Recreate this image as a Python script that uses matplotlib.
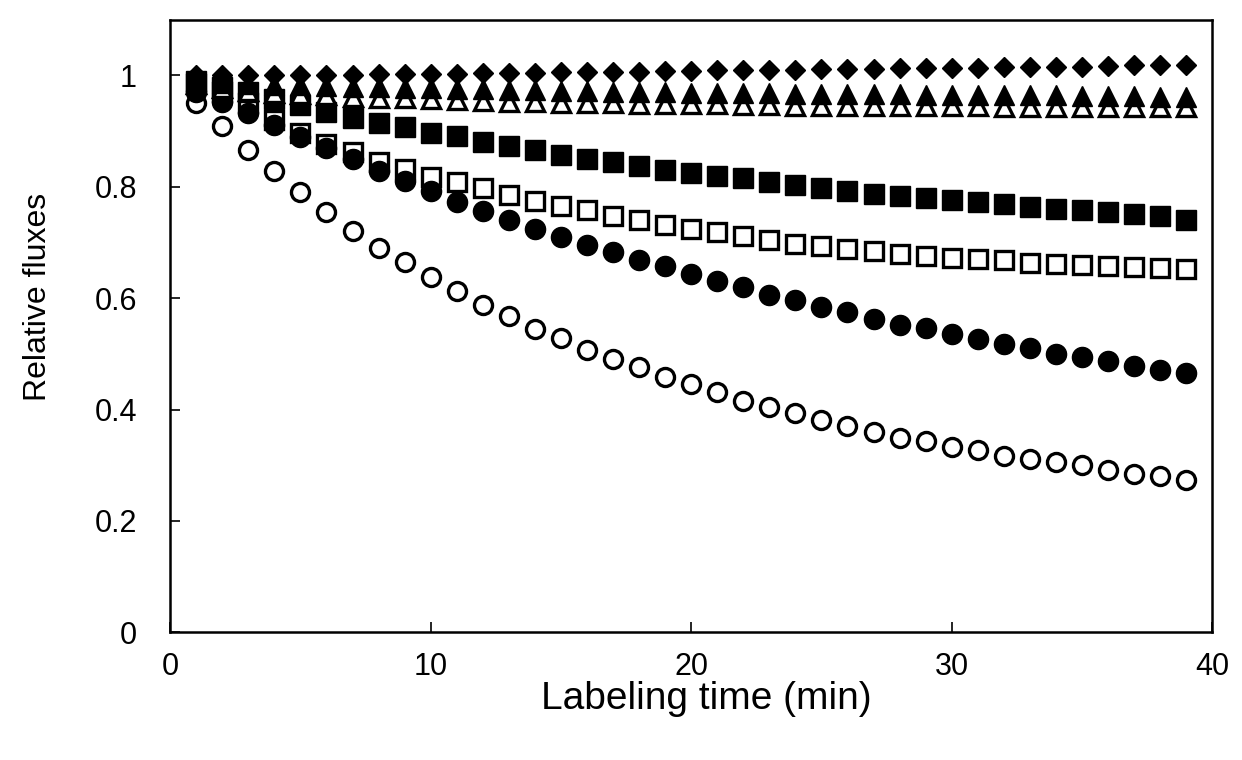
import matplotlib
matplotlib.use("Agg")
import matplotlib.pyplot as plt

plt.rcParams['font.family'] = ['Liberation Sans', 'DejaVu Sans']

# ==== DATA ====
minutes = list(range(1, 40))

diamond_filled = [1.000, 1.000, 1.000, 1.000, 1.000, 1.001, 1.001, 1.002, 1.002, 1.003,
                  1.003, 1.004, 1.005, 1.005, 1.006, 1.006, 1.007, 1.007, 1.008, 1.008,
                  1.009, 1.009, 1.010, 1.010, 1.011, 1.012, 1.012, 1.013, 1.013, 1.014,
                  1.014, 1.015, 1.015, 1.016, 1.016, 1.017, 1.018, 1.018, 1.019]

triangle_filled = [0.990, 0.987, 0.985, 0.983, 0.982, 0.981, 0.980, 0.979, 0.978, 0.977,
                   0.976, 0.975, 0.974, 0.973, 0.972, 0.972, 0.971, 0.970, 0.970, 0.969,
                   0.969, 0.968, 0.968, 0.967, 0.967, 0.966, 0.966, 0.966, 0.965, 0.965,
                   0.965, 0.964, 0.964, 0.964, 0.963, 0.963, 0.963, 0.962, 0.962]

triangle_open = [0.985, 0.978, 0.972, 0.968, 0.966, 0.964, 0.962, 0.960, 0.959, 0.957,
                 0.956, 0.954, 0.953, 0.952, 0.951, 0.950, 0.950, 0.949, 0.949, 0.948,
                 0.948, 0.947, 0.947, 0.946, 0.946, 0.946, 0.946, 0.945, 0.945, 0.945,
                 0.945, 0.944, 0.944, 0.944, 0.944, 0.943, 0.943, 0.943, 0.943]

square_filled = [0.990, 0.980, 0.970, 0.958, 0.947, 0.935, 0.923, 0.914, 0.907, 0.897,
                 0.891, 0.881, 0.873, 0.867, 0.857, 0.850, 0.845, 0.838, 0.831, 0.824,
                 0.820, 0.815, 0.809, 0.804, 0.798, 0.792, 0.788, 0.783, 0.780, 0.776,
                 0.773, 0.770, 0.764, 0.761, 0.758, 0.755, 0.752, 0.747, 0.741]

square_open = [0.985, 0.970, 0.950, 0.920, 0.897, 0.877, 0.862, 0.845, 0.832, 0.818,
               0.809, 0.797, 0.786, 0.775, 0.765, 0.758, 0.748, 0.741, 0.731, 0.724,
               0.718, 0.711, 0.705, 0.698, 0.694, 0.688, 0.684, 0.679, 0.675, 0.672,
               0.671, 0.669, 0.664, 0.661, 0.660, 0.657, 0.656, 0.654, 0.653]

circle_filled = [0.970, 0.952, 0.932, 0.911, 0.889, 0.869, 0.850, 0.829, 0.810, 0.792,
                 0.773, 0.757, 0.741, 0.725, 0.709, 0.695, 0.683, 0.668, 0.657, 0.643,
                 0.631, 0.620, 0.606, 0.596, 0.585, 0.575, 0.563, 0.552, 0.546, 0.535,
                 0.526, 0.517, 0.510, 0.500, 0.494, 0.487, 0.479, 0.471, 0.465]

circle_open = [0.950, 0.910, 0.866, 0.828, 0.790, 0.754, 0.720, 0.690, 0.665, 0.638,
               0.613, 0.588, 0.568, 0.545, 0.529, 0.507, 0.490, 0.476, 0.459, 0.446,
               0.432, 0.416, 0.405, 0.393, 0.381, 0.370, 0.360, 0.349, 0.344, 0.333,
               0.328, 0.317, 0.312, 0.305, 0.300, 0.292, 0.285, 0.281, 0.274]

y_ticks = [0, 0.2, 0.4, 0.6, 0.8, 1]
y_tick_labels = ["0", "0.2", "0.4", "0.6", "0.8", "1"]
x_ticks = [0, 10, 20, 30, 40]

# ==== FIGURE ====
fig = plt.figure(figsize=(12.42, 7.6), dpi=100)
ax = fig.add_axes([0.137, 0.168, 0.839, 0.806])

open_kw = dict(linestyle="none", markerfacecolor="white", markeredgecolor="black",
               markeredgewidth=2.4)
fill_kw = dict(linestyle="none", color="black")

# drawing order: open ones under the filled ones
ax.plot(minutes, circle_open, "o", markersize=13, **open_kw)
ax.plot(minutes, square_open, "s", markersize=13, **open_kw)
ax.plot(minutes, circle_filled, "o", markersize=14.5, **fill_kw)
ax.plot(minutes, square_filled, "s", markersize=14.5, **fill_kw)
ax.plot(minutes, triangle_open, "^", markersize=13.5, **open_kw)
ax.plot(minutes, triangle_filled, "^", markersize=14.5, **fill_kw)
ax.plot(minutes, diamond_filled, "D", markersize=10.5, **fill_kw)

ax.set_xlim(0, 40)
ax.set_ylim(0, 1.1)
ax.set_xticks(x_ticks)
ax.set_yticks(y_ticks)
ax.set_yticklabels(y_tick_labels)

ax.tick_params(axis="both", direction="in", length=7, width=1.2, labelsize=22)
ax.tick_params(axis="y", pad=24)
ax.tick_params(axis="x", pad=14)
for s in ax.spines.values():
    s.set_linewidth(1.8)

ax.set_xlabel("Labeling time (min)", fontsize=28)
ax.set_ylabel("Relative fluxes", fontsize=23)
ax.xaxis.set_label_coords(0.515, -0.08)
ax.yaxis.set_label_coords(-0.112, 0.547)

fig.savefig("out.png", dpi=100)
